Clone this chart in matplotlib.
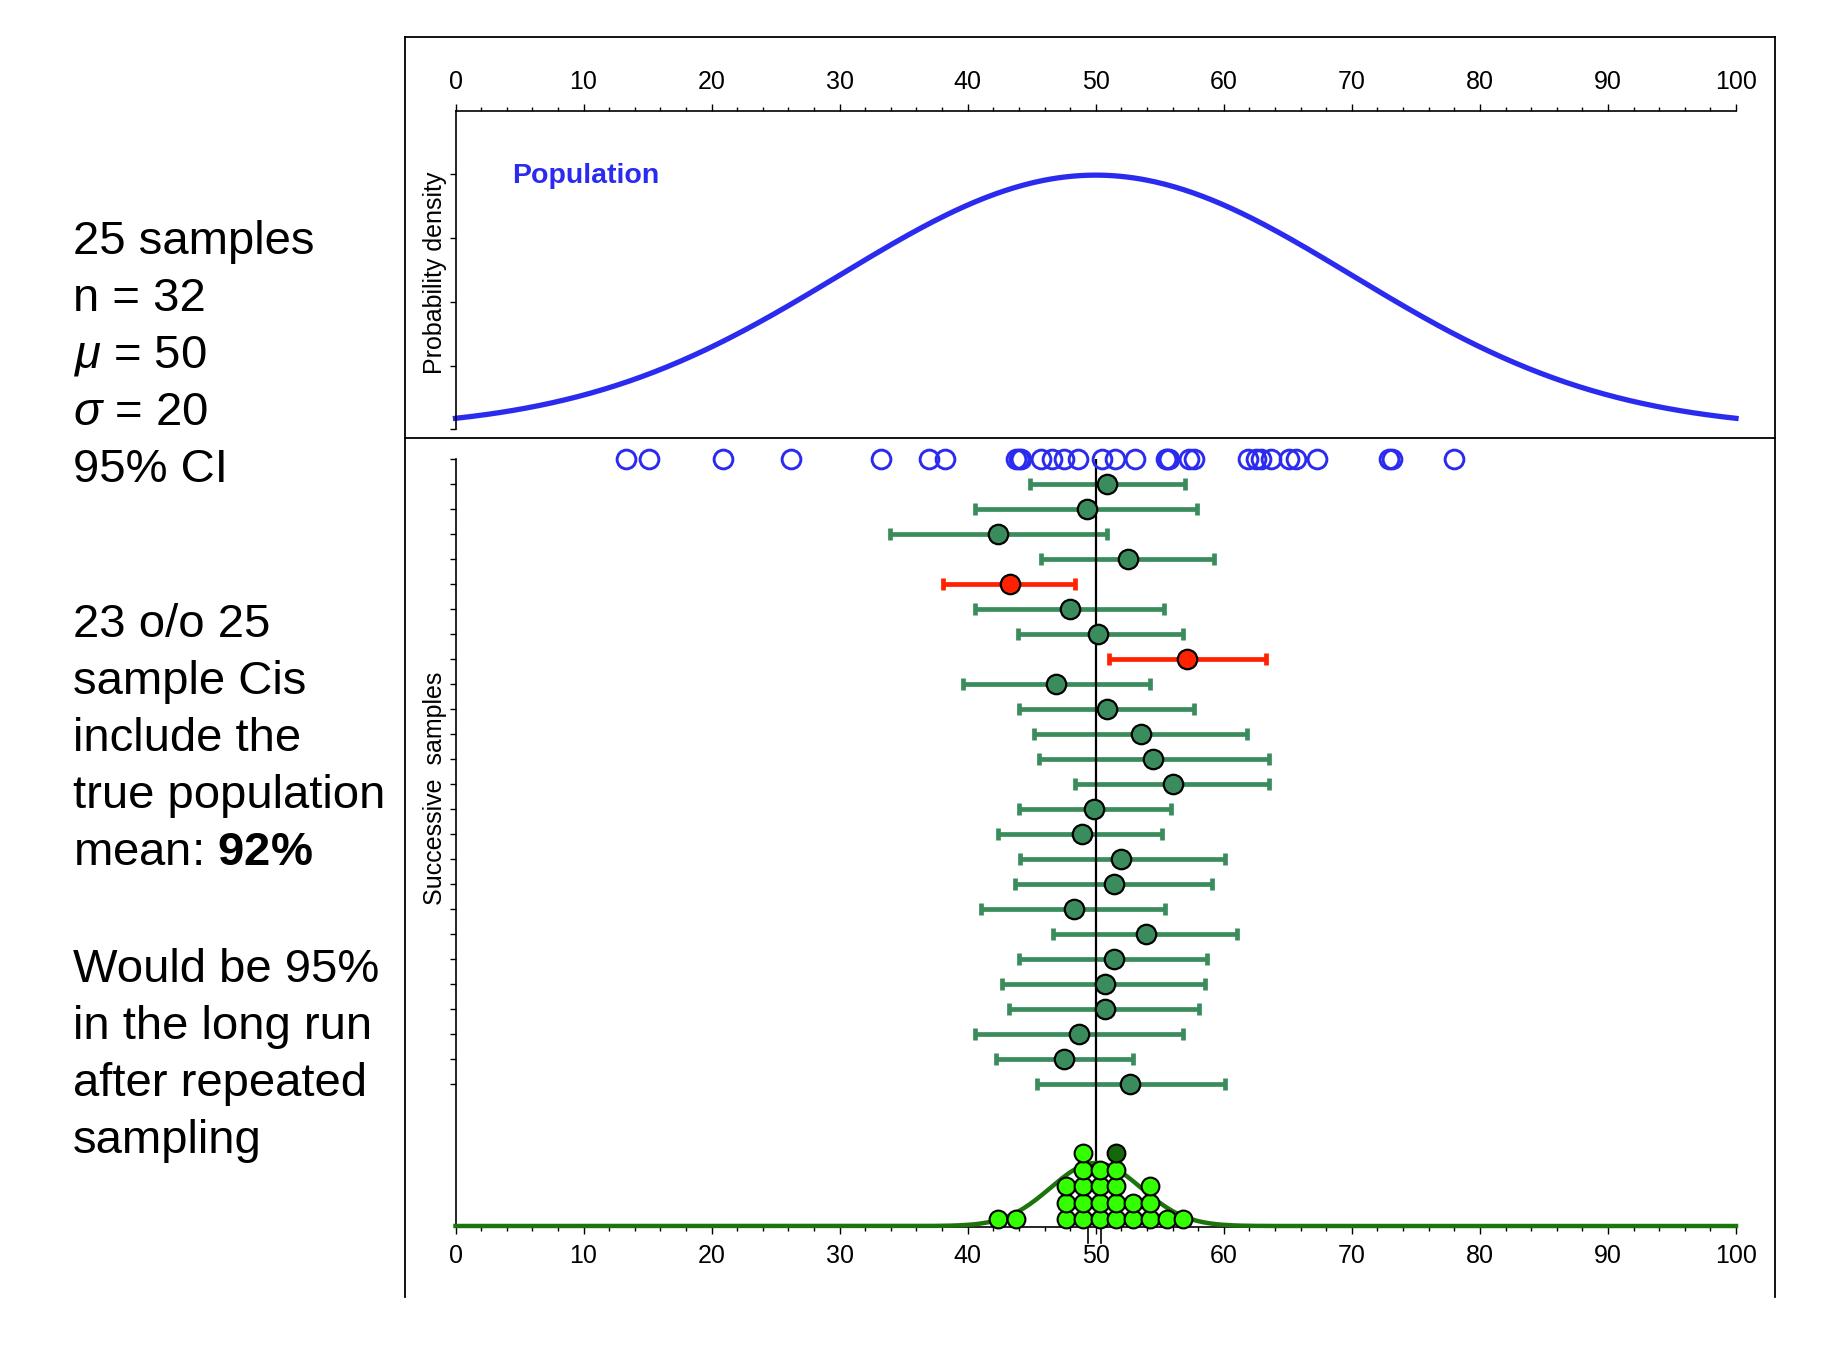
import matplotlib
matplotlib.use('Agg')
import matplotlib.pyplot as plt  # NOQA
from matplotlib.lines import Line2D  # NOQA
from matplotlib.ticker import MultipleLocator  # NOQA
import numpy as np  # NOQA

plt.rcParams['font.family'] = ['Liberation Sans', 'DejaVu Sans']
plt.rcParams['mathtext.fontset'] = 'custom'
plt.rcParams['mathtext.rm'] = 'Liberation Sans'
plt.rcParams['mathtext.it'] = 'Liberation Sans:italic'
plt.rcParams['mathtext.bf'] = 'Liberation Sans:bold'

# population and sampling setup
MU = 50
SIGMA = 20
N = 32

# 25 sample means with their 95% CIs, top row first
sample_means = [50.9, 49.3, 42.4, 52.5, 43.3, 48.0, 50.2, 57.1, 46.9, 50.9,
                53.5, 54.5, 56.0, 49.9, 48.9, 52.0, 51.4, 48.3, 53.9, 51.4,
                50.7, 50.7, 48.7, 47.5, 52.7]
ci_lower = [44.9, 40.6, 33.9, 45.7, 38.1, 40.6, 43.9, 51.0, 39.6, 44.0,
            45.2, 45.6, 48.4, 44.0, 42.4, 44.1, 43.7, 41.0, 46.7, 44.0,
            42.7, 43.2, 40.6, 42.2, 45.4]
ci_upper = [57.0, 57.9, 50.9, 59.2, 48.4, 55.3, 56.8, 63.3, 54.2, 57.7,
            61.8, 63.5, 63.5, 55.9, 55.2, 60.1, 59.1, 55.4, 61.0, 58.7,
            58.5, 58.1, 56.8, 52.9, 60.1]

# the n = 32 values of the latest sample (open circles)
latest_sample = [13.3, 15.1, 20.9, 26.2, 33.2, 37.0, 38.2, 43.8, 44.0, 44.2,
                 45.7, 46.6, 47.5, 48.6, 50.5, 51.5, 53.1, 55.5, 55.7, 55.6,
                 57.3, 57.7, 61.9, 62.5, 62.9, 63.7, 65.1, 65.6, 67.3, 72.9,
                 73.1, 78.0]

# dot plot of the sample means
dot_bins = [42.4, 43.8, 47.7, 49.0, 50.3, 51.6, 52.9, 54.2, 55.6, 56.8]
dot_counts = [1, 1, 3, 5, 4, 5, 2, 3, 1, 1]
latest_bin = 51.6
mean_marks = [49.4, 50.4]

block1 = ['25 samples', 'n = 32', r'$\mu$ = 50', r'$\sigma$ = 20', '95% CI']
block2 = ['23 o/o 25', 'sample Cis', 'include the', 'true population',
          r'mean: $\mathbf{92\%}$']
block3 = ['Would be 95%', 'in the long run', 'after repeated', 'sampling']

BLUE = '#2b2bf0'
GREEN = '#3a8c5c'
RED = '#ff2200'
LIGHT = '#33ff00'
DARK = '#16660c'
CURVE = '#1d740c'

W, H = 1826, 1354
fig = plt.figure(figsize=(W / 100, H / 100), dpi=100)


def fx(px):
    return px / W


def fy(py):
    return 1 - py / H


# outer frame
for xs, ys in [([405, 1775], [37, 37]), ([405, 1775], [438, 438]),
               ([405, 405], [37, 1297]), ([1775, 1775], [37, 1297])]:
    fig.add_artist(Line2D([fx(x) for x in xs], [fy(y) for y in ys],
                          transform=fig.transFigure, color='k', lw=1.3))

left, width = fx(455.5), fx(1736) - fx(455.5)

# ---- top panel: population
ax1 = fig.add_axes([left, fy(429.5), width, fy(110.7) - fy(429.5)])
xs = np.linspace(0, 100, 400)
pdf = np.exp(-0.5 * ((xs - MU) / SIGMA) ** 2) / (SIGMA * np.sqrt(2 * np.pi))
ax1.plot(xs, pdf, color=BLUE, lw=3.8, clip_on=False)
ax1.set_xlim(0, 100)
ax1.set_ylim(0, 0.025)
ax1.set_yticks(np.arange(0, 0.0201, 0.005))
ax1.set_yticklabels([])
ax1.xaxis.set_ticks_position('top')
ax1.xaxis.set_label_position('top')
ax1.set_xticks(range(0, 101, 10))
ax1.xaxis.set_minor_locator(MultipleLocator(2))
for s in ['right', 'bottom']:
    ax1.spines[s].set_visible(False)
ax1.text(4.4, 0.0199, 'Population', color=BLUE, fontsize=20.5,
         fontweight='bold', va='center')

# ---- lower panel: successive samples
y_axis = (1227 - 459) / 25.0
ax2 = fig.add_axes([left, fy(1227), width, fy(459) - fy(1227)])
ax2.set_xlim(0, 100)
ax2.set_ylim(y_axis, 0)
ax2.set_yticks(range(0, 26))
ax2.set_yticklabels([])
ax2.set_xticks(range(0, 101, 10))
ax2.xaxis.set_minor_locator(MultipleLocator(2))
for s in ['right', 'top']:
    ax2.spines[s].set_visible(False)

ax2.plot(latest_sample, [0] * len(latest_sample), 'o', ms=13.5, mfc='none',
         mec=BLUE, mew=2.1, clip_on=False, zorder=5)

ax2.vlines(MU, 0, y_axis, color='k', lw=1.6, zorder=3)

rows = np.arange(1, len(sample_means) + 1)
for r, m, lo, hi in zip(rows, sample_means, ci_lower, ci_upper):
    c = RED if (lo > MU or hi < MU) else GREEN
    ax2.errorbar([m], [r], xerr=[[m - lo], [hi - m]], fmt='none', ecolor=c,
                 elinewidth=3.4, capsize=4.2, capthick=3.4, zorder=2)
    ax2.plot([m], [r], 'o', ms=14, mfc=c, mec='k', mew=1.6, zorder=4)

# sampling distribution of the mean
se = SIGMA / np.sqrt(N)
samp = np.exp(-0.5 * ((xs - MU) / se) ** 2)
ax2.plot(xs, y_axis - 0.04 - 2.52 * samp, color=CURVE, lw=3.2, zorder=3,
         clip_on=False)

# dot plot of the sample means
for b, cnt in zip(dot_bins, dot_counts):
    for k in range(cnt):
        col = DARK if (b == latest_bin and k == cnt - 1) else LIGHT
        ax2.plot([b], [y_axis - 0.32 - 0.66 * k], 'o', ms=12.8, mfc=col,
                 mec='k', mew=1.5, zorder=6, clip_on=False)

for m in mean_marks:
    ax2.plot([m, m], [y_axis, y_axis + 0.62], color='k', lw=1.2,
             clip_on=False)

for ax in (ax1, ax2):
    for s in ax.spines.values():
        s.set_linewidth(1.2)
    ax.tick_params(which='major', direction='out', length=5, width=1,
                   labelsize=18, pad=7)
    ax.tick_params(which='minor', direction='out', length=3, width=1)
    ax.tick_params(axis='y', which='major', length=4.5)

fig.text(fx(435), fy(273), 'Probability density', rotation=90, fontsize=18,
         ha='center', va='center')
fig.text(fx(435), fy(788), 'Successive  samples', rotation=90, fontsize=18,
         ha='center', va='center')

# left-hand notes
step = 57.1
for start, lines in [(236.5, block1), (619.8, block2), (964.6, block3)]:
    for i, t in enumerate(lines):
        fig.text(fx(73), fy(start + i * step + 17), t, fontsize=34,
                 va='baseline', ha='left')

fig.savefig('out.png', dpi=100)
plt.close(fig)
